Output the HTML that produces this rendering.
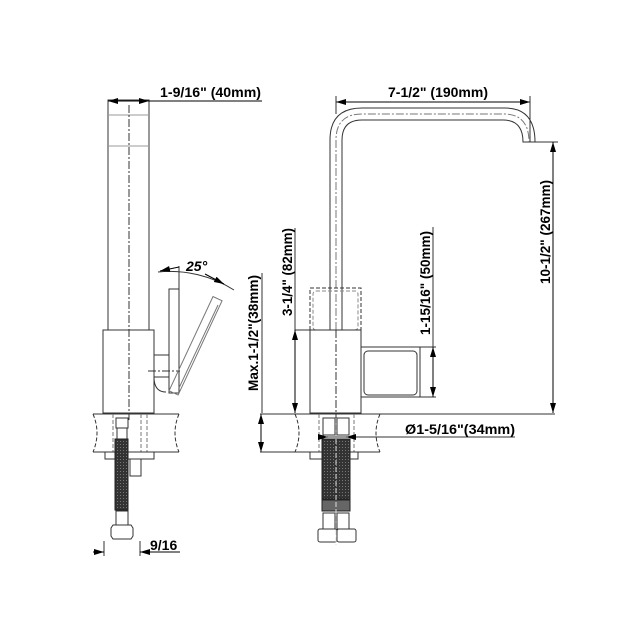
<!DOCTYPE html>
<html><head><meta charset="utf-8"><style>
html,body{margin:0;padding:0;background:#fff}
svg{display:block}
text{font-family:"Liberation Sans",Arial,sans-serif;font-weight:bold;fill:#000}
</style></head><body>
<svg width="631" height="617" viewBox="0 0 631 617" xmlns="http://www.w3.org/2000/svg">
<defs>
<marker id="a" viewBox="0 0 10 6" refX="10" refY="3" markerWidth="10" markerHeight="6" orient="auto-start-reverse" markerUnits="userSpaceOnUse"><path d="M0,0 L10,3 L0,6z" fill="#000"/></marker>
<pattern id="br" width="3" height="3" patternUnits="userSpaceOnUse"><rect width="3" height="3" fill="#333"/><rect width="1" height="1" fill="#777"/></pattern>
</defs>
<g fill="none" stroke="#333" stroke-width="1">
<!-- LEFT VIEW -->
<rect x="108" y="100" width="41" height="230"/>
<line x1="108" y1="115" x2="149" y2="115" stroke="#999"/>
<line x1="108" y1="146" x2="149" y2="146" stroke="#999"/>
<line x1="129" y1="105" x2="129" y2="420" stroke-dasharray="8,2,2,2"/>
<rect x="103" y="330" width="51" height="83"/>
<path d="M154,355 H169 M154,377 H169 M154,377 Q154,392 166,392"/>
<line x1="148" y1="371" x2="180" y2="371" stroke-dasharray="8,2,2,2"/>
<rect x="169" y="289" width="10" height="104"/>
<rect x="169" y="289" width="10" height="104" transform="rotate(25 174 392)" stroke="#777"/>
<line x1="179" y1="266" x2="179" y2="289"/>
<path d="M158,272 A120,120 0 0 1 234,290"/>
<line x1="179" y1="267" x2="160" y2="271" stroke="#000" marker-end="url(#a)"/>
<line x1="205" y1="274" x2="224" y2="284" stroke="#000" marker-end="url(#a)"/>
<line x1="179" y1="388" x2="218" y2="305" stroke="#777"/>
<line x1="108" y1="101" x2="262" y2="101" stroke="#000" marker-start="url(#a)"/>
<line x1="140" y1="101" x2="149" y2="101" stroke="#000" marker-end="url(#a)"/>
<!-- countertop left -->
<path d="M93,414 H179 M93,452 H179"/>
<path d="M93,414 Q101,433 93,452 M179,414 Q171,433 179,452" stroke-dasharray="4,2"/>
<path d="M113,414 V452 M141,414 V452 M147,414 V452" stroke-dasharray="4,2" stroke="#777"/>
<rect x="105" y="452" width="49" height="7"/>
<rect x="116" y="418" width="12" height="10"/>
<rect x="117" y="428" width="10" height="11"/>
<rect x="115" y="439" width="13" height="71" fill="url(#br)" stroke="#222"/>
<rect x="130" y="459" width="11" height="17"/>
<rect x="116" y="511" width="12" height="14"/>
<path d="M111,528 L113,525 H131 L133,528 V536 L131,539 H113 L111,536Z"/>
<line x1="104" y1="541" x2="104" y2="556"/><line x1="140" y1="541" x2="140" y2="556"/>
<line x1="93" y1="552" x2="104" y2="552" stroke="#000" marker-end="url(#a)"/>
<line x1="180" y1="552" x2="140" y2="552" stroke="#000" marker-end="url(#a)"/>
<line x1="262" y1="273" x2="262" y2="413"/>
<line x1="261" y1="414" x2="261" y2="452" stroke="#000" marker-start="url(#a)" marker-end="url(#a)"/>
<!-- RIGHT VIEW -->
<path d="M330,330 V140 Q330,108 362,108 H505 Q535,108 535,142 H523 Q523,120 503,120 H362 Q342,120 342,140 V330"/>
<path d="M336,330 V140 Q336,114 362,114 H504 Q529,114 529,142" stroke-dasharray="8,2,2,2" stroke="#777"/>
<rect x="310" y="288" width="51" height="42" stroke-dasharray="4,2"/>
<rect x="313" y="291" width="45" height="39" rx="3" stroke-dasharray="4,2" stroke="#888"/>
<rect x="310" y="330" width="51" height="83"/>
<line x1="336" y1="330" x2="336" y2="420" stroke-dasharray="8,2,2,2"/>
<rect x="361" y="347" width="59" height="50"/>
<rect x="364" y="351" width="53" height="44" rx="4"/>
<line x1="336" y1="102" x2="530" y2="102" stroke="#000" marker-start="url(#a)" marker-end="url(#a)"/>
<line x1="336" y1="96" x2="336" y2="114"/><line x1="530" y1="96" x2="530" y2="142"/>
<line x1="535" y1="142" x2="558" y2="142"/>
<line x1="553" y1="142" x2="553" y2="413" stroke="#000" marker-start="url(#a)" marker-end="url(#a)"/>
<line x1="420" y1="347" x2="436" y2="347"/><line x1="420" y1="397" x2="436" y2="397"/>
<line x1="433" y1="227" x2="433" y2="347"/>
<line x1="433" y1="347" x2="433" y2="397" stroke="#000" marker-start="url(#a)" marker-end="url(#a)"/>
<line x1="295" y1="228" x2="295" y2="330"/>
<line x1="295" y1="330" x2="310" y2="330"/>
<line x1="295" y1="330" x2="295" y2="413" stroke="#000" marker-start="url(#a)" marker-end="url(#a)"/>
<!-- countertop right -->
<path d="M260,414 H555 M260,452 H380"/>
<path d="M295,414 Q303,433 295,452 M380,414 Q372,433 380,452" stroke-dasharray="4,2"/>
<path d="M319,414 V452 M354,414 V452" stroke-dasharray="4,2" stroke="#777"/>
<rect x="310" y="452" width="48" height="7"/>
<rect x="323" y="418" width="12" height="17"/><rect x="337" y="418" width="12" height="17"/>
<rect x="322" y="439" width="28" height="60" fill="url(#br)" stroke="#222"/>
<rect x="322" y="500" width="28" height="11" fill="#666" stroke="#222"/>
<rect x="323" y="513" width="12" height="16"/><rect x="337" y="513" width="12" height="16"/>
<rect x="318" y="529" width="19" height="13" rx="2"/><rect x="337" y="529" width="19" height="13" rx="2"/>
<line x1="336" y1="418" x2="336" y2="545" stroke="#ddd" stroke-dasharray="5,2"/>
<line x1="319" y1="437" x2="515" y2="437"/>
<line x1="319" y1="437" x2="328" y2="437" stroke="#000" marker-end="url(#a)"/>
<line x1="356" y1="437" x2="346" y2="437" stroke="#000" marker-end="url(#a)"/>
</g>
<text x="160" y="97" font-size="14" textLength="101" lengthAdjust="spacingAndGlyphs">1-9/16" (40mm)</text>
<text x="186" y="271" font-size="14" font-style="italic">25°</text>
<text x="388" y="97" font-size="14" textLength="100" lengthAdjust="spacingAndGlyphs">7-1/2" (190mm)</text>
<text x="150" y="550" font-size="14">9/16</text>
<text x="405" y="434" font-size="14" textLength="110" lengthAdjust="spacingAndGlyphs">Ø1-5/16"(34mm)</text>
<text transform="translate(258,333) rotate(-90)" font-size="14" text-anchor="middle" textLength="116" lengthAdjust="spacingAndGlyphs">Max.1-1/2"(38mm)</text>
<text transform="translate(292,272) rotate(-90)" font-size="14" text-anchor="middle" textLength="88" lengthAdjust="spacingAndGlyphs">3-1/4" (82mm)</text>
<text transform="translate(430,283) rotate(-90)" font-size="14" text-anchor="middle" textLength="104" lengthAdjust="spacingAndGlyphs">1-15/16" (50mm)</text>
<text transform="translate(550,232) rotate(-90)" font-size="14" text-anchor="middle" textLength="104" lengthAdjust="spacingAndGlyphs">10-1/2" (267mm)</text>
</svg>
</body></html>
